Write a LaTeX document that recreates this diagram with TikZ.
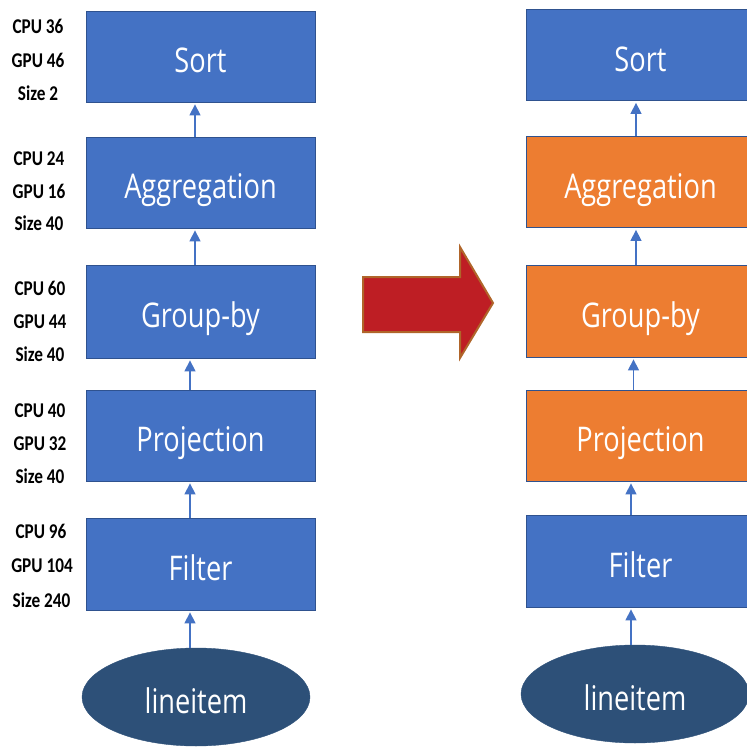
\documentclass[tikz,border=0pt]{standalone}
\usepackage{fontspec}
\usetikzlibrary{arrows.meta,shapes.geometric}
\newfontfamily\statfont{Carlito}[FakeStretch=0.82]
\newfontfamily\opfont{Open Sans}[FakeStretch=0.8]
\definecolor{opblue}{HTML}{4472C4}
\definecolor{opedge}{HTML}{2F528F}
\definecolor{oporange}{HTML}{ED7D31}
\definecolor{srcblue}{HTML}{2D5078}
\definecolor{bigred}{HTML}{BE1E24}
\definecolor{bigedge}{HTML}{B0652A}
\tikzset{
  op/.style={rectangle, draw=opedge, line width=0.8pt, fill=opblue,
    minimum width=229pt, minimum height=91pt, inner sep=0pt, text=white,
    font=\opfont\fontsize{34}{34}\selectfont, text height=32pt, text depth=0pt},
  hot/.style={op, fill=oporange},
  src/.style={ellipse, fill=srcblue, draw=srcblue, minimum width=228pt,
    minimum height=98pt, inner sep=0pt, text=white,
    font=\opfont\fontsize{34}{34}\selectfont, text height=32pt, text depth=0pt},
  stat/.style={anchor=base, inner sep=0pt, text=black,
    font=\statfont\bfseries\fontsize{21}{21}\selectfont},
  flow/.style={-{Triangle[width=11pt,length=11pt]}, draw=opblue, line width=1.4pt,
    shorten >=2pt}
}
\begin{document}
\begin{tikzpicture}[x=1pt,y=-1pt]
\useasboundingbox (0,0) rectangle (747,747);
\clip (0,0) rectangle (747,747);

% original plan (all operators on one device)
\node[op] (sortL)   at (200.5,56.5)  {Sort};
\node[op] (aggL)    at (200.5,182.5) {Aggregation};
\node[op, minimum height=93pt] (groupL) at (200.5,311.5) {Group-by};
\node[op] (projL)   at (200.5,435.5) {Projection};
\node[op, minimum height=92pt] (filterL) at (200.5,564) {Filter};
\node[src] (liL)    at (196,697) {lineitem};

\draw[flow] ([xshift=-6pt]liL.north) -- ([xshift=-10.5pt]filterL.south);
\draw[flow] ([xshift=-10.5pt]filterL.north) -- ([xshift=-10.5pt]projL.south);
\draw[flow] ([xshift=-10.5pt]projL.north) -- ([xshift=-10.5pt]groupL.south);
\draw[flow] ([xshift=-5.5pt]groupL.north) -- ([xshift=-5.5pt]aggL.south);
\draw[flow] ([xshift=-5.5pt]aggL.north) -- ([xshift=-5.5pt]sortL.south);

% per-operator costs
\node[stat] (c1) at (38,33)  {CPU 36};
\node[stat] (g1) at (38,67)  {GPU 46};
\node[stat] (s1) at (38,100) {Size 2};
\node[stat] (c2) at (39,165) {CPU 24};
\node[stat] (g2) at (39,198) {GPU 16};
\node[stat] (s2) at (39,230) {Size 40};
\node[stat] (c3) at (40,295) {CPU 60};
\node[stat] (g3) at (40,328) {GPU 44};
\node[stat] (s3) at (40,361) {Size 40};
\node[stat] (c4) at (40,417) {CPU 40};
\node[stat] (g4) at (40,450) {GPU 32};
\node[stat] (s4) at (40,483) {Size 40};
\node[stat] (c5) at (41,538) {CPU 96};
\node[stat] (g5) at (42,572) {GPU 104};
\node[stat] (s5) at (41.5,607) {Size 240};

% transformation arrow
\filldraw[fill=bigred, draw=bigedge, line width=2pt, line join=miter]
  (363,277) -- (460,277) -- (460,247) -- (493,303) -- (460,358)
  -- (460,332) -- (363,332) -- cycle;

% placed plan (offloaded operators highlighted)
\node[op]  (sortR)   at (640.5,55)    {Sort};
\node[hot] (aggR)    at (640.5,182)   {Aggregation};
\node[hot, minimum height=92pt] (groupR) at (640.5,311) {Group-by};
\node[hot] (projR)   at (640.5,435.5) {Projection};
\node[op, minimum height=92pt] (filterR) at (640.5,561) {Filter};
\node[src] (liR)     at (635,694) {lineitem};

\draw[flow] ([xshift=-4pt]liR.north) -- ([xshift=-9.5pt]filterR.south);
\draw[flow] ([xshift=-9.5pt]filterR.north) -- ([xshift=-9.5pt]projR.south);
\draw[flow] ([xshift=-7pt]projR.north) -- ([xshift=-7pt]groupR.south);
\draw[flow] ([xshift=-4.5pt]groupR.north) -- ([xshift=-4.5pt]aggR.south);
\draw[flow] ([xshift=-4.5pt]aggR.north) -- ([xshift=-4.5pt]sortR.south);
\end{tikzpicture}
\end{document}
